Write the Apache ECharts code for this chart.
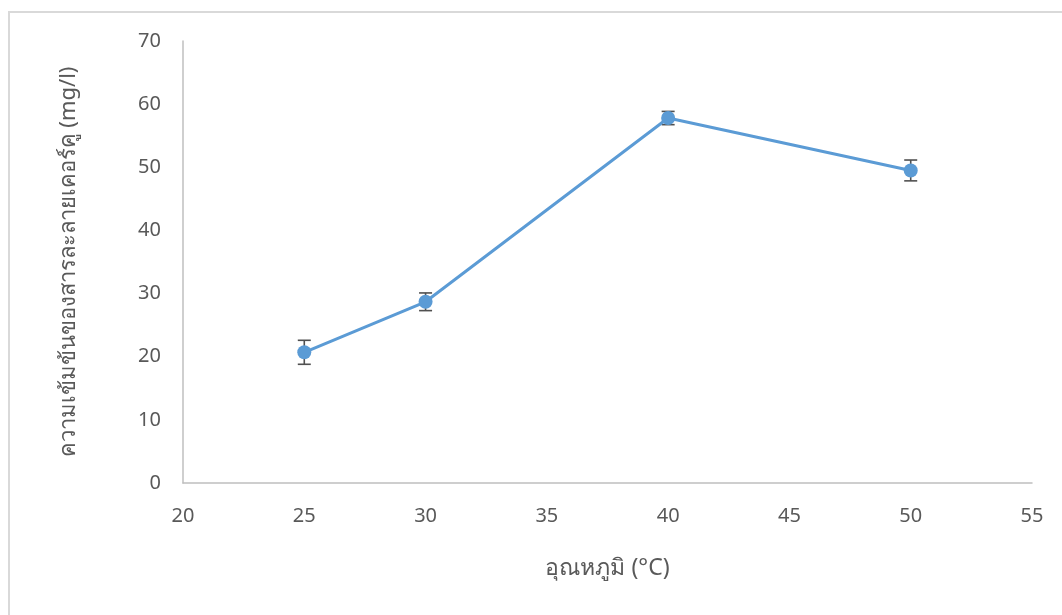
<!DOCTYPE html>
<html>
<head>
<meta charset="utf-8">
<title>ความเข้มข้นของสารละลายเคอร์คู</title>
<script src="https://cdn.jsdelivr.net/npm/echarts@6/dist/echarts.min.js"></script>
<style>
  html, body { margin: 0; padding: 0; background: #ffffff; }
  #frame {
    position: absolute; left: 8px; top: 11px; width: 1100px; height: 700px;
    border-left: 2px solid #d9d9d9; border-top: 2px solid #d9d9d9;
    box-sizing: border-box;
  }
  #chart { position: absolute; left: 0; top: 0; width: 1062px; height: 615px; }
</style>
</head>
<body>
<div id="frame"></div>
<div id="chart"></div>
<script>
// Extraction temperature (°C) against curcumin concentration (mg/l)
const temperatures = [25, 30, 40, 50];
const concentrations = [20.7, 28.7, 57.8, 49.5];
const errors = [1.9, 1.4, 1.05, 1.65];

const xAxisTitle = 'อุณหภูมิ (°C)';
const yAxisTitle = 'ความเข้มข้นของสารละลายเคอร์คู (mg/l)';

const lineData = temperatures.map((t, i) => [t, concentrations[i]]);
const errorData = temperatures.map((t, i) => [t, concentrations[i] - errors[i], concentrations[i] + errors[i]]);

const labelFont = '"Noto Sans", "Open Sans", sans-serif';
const chart = echarts.init(document.getElementById('chart'), null, { renderer: 'canvas' });

chart.setOption({
  backgroundColor: 'transparent',
  animation: false,
  grid: { left: 183, right: 30, top: 41, bottom: 132 },
  xAxis: {
    type: 'value', min: 20, max: 55, interval: 5,
    name: xAxisTitle, nameLocation: 'middle', nameGap: 74,
    nameTextStyle: { fontFamily: labelFont, fontSize: 23, color: '#595959' },
    axisLine: { show: true, lineStyle: { color: '#bfbfbf', width: 1.5 } },
    axisTick: { show: false },
    splitLine: { show: false },
    axisLabel: { fontFamily: labelFont, fontSize: 20, color: '#595959', margin: 23 }
  },
  yAxis: {
    type: 'value', min: 0, max: 70, interval: 10,
    name: yAxisTitle, nameLocation: 'middle', nameGap: 103, nameRotate: 90,
    nameTextStyle: { fontFamily: labelFont, fontSize: 22, color: '#595959' },
    axisLine: { show: true, lineStyle: { color: '#bfbfbf', width: 1.5 } },
    axisTick: { show: false },
    splitLine: { show: false },
    axisLabel: { fontFamily: labelFont, fontSize: 20, color: '#595959', margin: 22 }
  },
  series: [
    {
      type: 'custom',
      z: 1,
      data: errorData,
      renderItem: function (params, api) {
        const x = api.value(0);
        const lo = api.coord([x, api.value(1)]);
        const hi = api.coord([x, api.value(2)]);
        const half = 6.5;
        const style = { stroke: '#505050', lineWidth: 1.6 };
        return {
          type: 'group',
          children: [
            { type: 'line', shape: { x1: lo[0], y1: lo[1], x2: hi[0], y2: hi[1] }, style: style },
            { type: 'line', shape: { x1: lo[0] - half, y1: lo[1], x2: lo[0] + half, y2: lo[1] }, style: style },
            { type: 'line', shape: { x1: hi[0] - half, y1: hi[1], x2: hi[0] + half, y2: hi[1] }, style: style }
          ]
        };
      }
    },
    {
      type: 'line',
      z: 3,
      data: lineData,
      symbol: 'circle',
      symbolSize: 14,
      lineStyle: { color: '#5b9bd5', width: 3 },
      itemStyle: { color: '#5b9bd5' }
    }
  ]
});
</script>
</body>
</html>
